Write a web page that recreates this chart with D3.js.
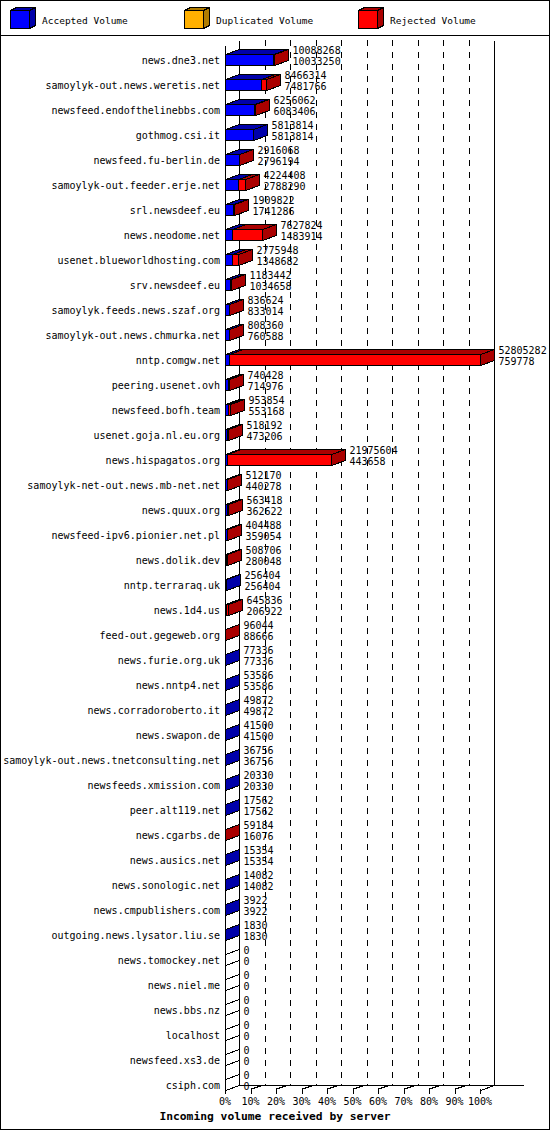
<!DOCTYPE html>
<html>
<head>
<meta charset="utf-8">
<script src="https://d3js.org/d3.v7.min.js"></script>
<style>
    body { margin: 0; background: #fff; }
    svg { display: block; shape-rendering: crispEdges; }
    text { font-family: "DejaVu Sans Mono", monospace; font-size: 10px; fill: #000; }
</style>
</head>
<body>
<svg id="chart" width="550" height="1130"></svg>
<script>
const servers = [
    "news.dne3.net", "samoylyk-out.news.weretis.net", "newsfeed.endofthelinebbs.com",
    "gothmog.csi.it", "newsfeed.fu-berlin.de", "samoylyk-out.feeder.erje.net",
    "srl.newsdeef.eu", "news.neodome.net", "usenet.blueworldhosting.com",
    "srv.newsdeef.eu", "samoylyk.feeds.news.szaf.org", "samoylyk-out.news.chmurka.net",
    "nntp.comgw.net", "peering.usenet.ovh", "newsfeed.bofh.team",
    "usenet.goja.nl.eu.org", "news.hispagatos.org", "samoylyk-net-out.news.mb-net.net",
    "news.quux.org", "newsfeed-ipv6.pionier.net.pl", "news.dolik.dev",
    "nntp.terraraq.uk", "news.1d4.us", "feed-out.gegeweb.org",
    "news.furie.org.uk", "news.nntp4.net", "news.corradoroberto.it",
    "news.swapon.de", "samoylyk-out.news.tnetconsulting.net", "newsfeeds.xmission.com",
    "peer.alt119.net", "news.cgarbs.de", "news.ausics.net",
    "news.sonologic.net", "news.cmpublishers.com", "outgoing.news.lysator.liu.se",
    "news.tomockey.net", "news.niel.me", "news.bbs.nz",
    "localhost", "newsfeed.xs3.de", "csiph.com"
];

// total offered volume (first number) and accepted volume (second number)
const offeredVolume = [
    10088268, 8466314, 6256062, 5813814, 2916068, 4224408,
    1909822, 7627824, 2775948, 1183442, 836624, 808360,
    52805282, 740428, 953854, 518192, 21975604, 512170,
    563418, 404488, 508706, 256404, 645836, 96044,
    77336, 53586, 49872, 41500, 36756, 20330,
    17562, 59184, 15354, 14082, 3922, 1830,
    0, 0, 0, 0, 0, 0
];
const acceptedVolume = [
    10033250, 7481766, 6083406, 5813814, 2796194, 2788290,
    1741286, 1483914, 1348682, 1034658, 833014, 760588,
    759778, 714976, 553168, 473206, 443658, 440278,
    362622, 359054, 280048, 256404, 206922, 88666,
    77336, 53586, 49872, 41500, 36756, 20330,
    17562, 16076, 15354, 14082, 3922, 1830,
    0, 0, 0, 0, 0, 0
];

const legendNames = ["Accepted Volume", "Duplicated Volume", "Rejected Volume"];
const percentTicks = [0, 10, 20, 30, 40, 50, 60, 70, 80, 90, 100];
const chartTitle = "Incoming volume received by server";

const colors = {
    "Accepted Volume": ["#0000ff", "#0000aa"],
    "Duplicated Volume": ["#ffb000", "#b07c00"],
    "Rejected Volume": ["#ff0000", "#aa0000"]
};

const svg = d3.select("#chart");
const W = 550, H = 1130;
const dx = 14, dy = 5;
const baseY = 1090;
const p = (v) => Math.round(v) + 0.5;

// frame + legend separator
svg.append("rect")
    .attr("x", 0.5).attr("y", 0.5)
    .attr("width", W - 1).attr("height", H - 1)
    .attr("fill", "#fff").attr("stroke", "#000");
svg.append("line")
    .attr("x1", 0).attr("x2", W).attr("y1", 35.5).attr("y2", 35.5)
    .attr("stroke", "#000");

// legend
const legendX = d3.scalePoint().domain(legendNames).range([10, 358]);
const legend = svg.selectAll("g.legend").data(legendNames).enter()
    .append("g").classed("legend", true)
    .attr("transform", (d) => `translate(${legendX(d)},0)`);
legend.append("polygon")
    .attr("points", "0.5,10.5 6.5,7.5 25.5,7.5 19.5,10.5")
    .attr("fill", (d) => colors[d][1]).attr("stroke", "#000");
legend.append("polygon")
    .attr("points", "19.5,10.5 25.5,7.5 25.5,25.5 19.5,28.5")
    .attr("fill", (d) => colors[d][1]).attr("stroke", "#000");
legend.append("rect")
    .attr("x", 0.5).attr("y", 10.5).attr("width", 19).attr("height", 18)
    .attr("fill", (d) => colors[d][0]).attr("stroke", "#000");
legend.append("text")
    .attr("x", 32).attr("y", 24)
    .style("font-size", "9.5px")
    .text((d) => d);

// scales
const pct = d3.scaleLinear().domain([0, 100]).range([225, 480]);
const vol = d3.scaleLinear().domain([0, d3.max(offeredVolume)]).range([225, 480]);
const y = d3.scaleBand().domain(servers).range([54, baseY]).paddingInner(0.56).paddingOuter(0);
const barH = Math.round(y.bandwidth());

// back plane grid
svg.selectAll("line.grid").data(percentTicks.slice(1, -1)).enter()
    .append("line").classed("grid", true)
    .attr("x1", (d) => p(pct(d) + dx)).attr("x2", (d) => p(pct(d) + dx))
    .attr("y1", 40).attr("y2", baseY - dy)
    .attr("stroke", "#000").attr("stroke-dasharray", "6,6");

const walls = [
    [pct(0) + dx, 40, pct(0) + dx, baseY - dy],
    [pct(100) + dx, 40, pct(100) + dx, baseY - dy],
    [pct(0), 45, pct(0), baseY],
    [pct(0), baseY, pct(0) + dx, baseY - dy],
    [pct(100), baseY, pct(100) + dx, baseY - dy],
    [pct(0) + dx, baseY - dy, 523, baseY - dy]
];
svg.selectAll("line.wall").data(walls).enter()
    .append("line").classed("wall", true)
    .attr("x1", (d) => p(d[0])).attr("y1", (d) => p(d[1]))
    .attr("x2", (d) => p(d[2])).attr("y2", (d) => p(d[3]))
    .attr("stroke", "#000");

// x axis ticks
const ticks = svg.selectAll("g.tick").data(percentTicks).enter()
    .append("g").classed("tick", true);
ticks.append("line")
    .attr("x1", (d) => p(pct(d))).attr("x2", (d) => p(pct(d)))
    .attr("y1", baseY - 1).attr("y2", baseY + 4)
    .attr("stroke", "#000");
ticks.filter((d) => d > 0 && d < 100).append("line")
    .attr("x1", (d) => p(pct(d))).attr("y1", baseY - 1)
    .attr("x2", (d) => p(pct(d) + 9)).attr("y2", baseY - 4)
    .attr("stroke", "#000");
ticks.filter((d) => d > 0 && d < 100).append("rect")
    .attr("x", (d) => Math.round(pct(d)) + 7).attr("y", baseY - 5)
    .attr("width", 3).attr("height", 2).attr("fill", "#000");
ticks.append("text")
    .attr("x", (d) => pct(d)).attr("y", baseY + 15)
    .attr("text-anchor", "middle")
    .text((d) => d + "%");

// bars
const rows = servers.map((name, i) => {
    const segs = [
        { key: "Accepted Volume", from: 0, to: acceptedVolume[i] },
        { key: "Rejected Volume", from: acceptedVolume[i], to: offeredVolume[i] }
    ].filter((s) => s.to > s.from);
    return { name, offered: offeredVolume[i], accepted: acceptedVolume[i], segs };
});

const bars = svg.selectAll("g.bar").data(rows).enter()
    .append("g").classed("bar", true)
    .attr("transform", (d) => `translate(0,${y(d.name)})`);

bars.each(function (d) {
    const g = d3.select(this);
    const xe = p(vol(d.offered));
    d.segs.forEach((s) => {
        const a = p(vol(s.from)), b = p(vol(s.to));
        g.append("polygon")
            .attr("points", `${a},0.5 ${a + dx},${0.5 - dy} ${b + dx},${0.5 - dy} ${b},0.5`)
            .attr("fill", colors[s.key][1]).attr("stroke", "#000");
        g.append("rect")
            .attr("x", a).attr("y", 0.5).attr("width", b - a).attr("height", barH)
            .attr("fill", colors[s.key][0]).attr("stroke", "#000");
    });
    const last = d.segs[d.segs.length - 1];
    g.append("polygon")
        .attr("points", `${xe},0.5 ${xe + dx},${0.5 - dy} ${xe + dx},${0.5 + barH - dy} ${xe},${0.5 + barH}`)
        .attr("fill", last ? colors[last.key][1] : "none")
        .attr("stroke", "#000");
});

// server names
bars.append("text")
    .attr("x", 220).attr("y", 9.5)
    .attr("text-anchor", "end")
    .text((d) => d.name);

// values
bars.append("text")
    .attr("x", (d) => p(vol(d.offered)) + dx + 4).attr("y", -0.5)
    .text((d) => d.offered);
bars.append("text")
    .attr("x", (d) => p(vol(d.offered)) + dx + 4).attr("y", 11)
    .text((d) => d.accepted);

svg.append("text")
    .attr("x", W / 2).attr("y", 1120)
    .attr("text-anchor", "middle")
    .style("font-weight", "bold").style("font-size", "11.3px")
    .text(chartTitle);
</script>
</body>
</html>
